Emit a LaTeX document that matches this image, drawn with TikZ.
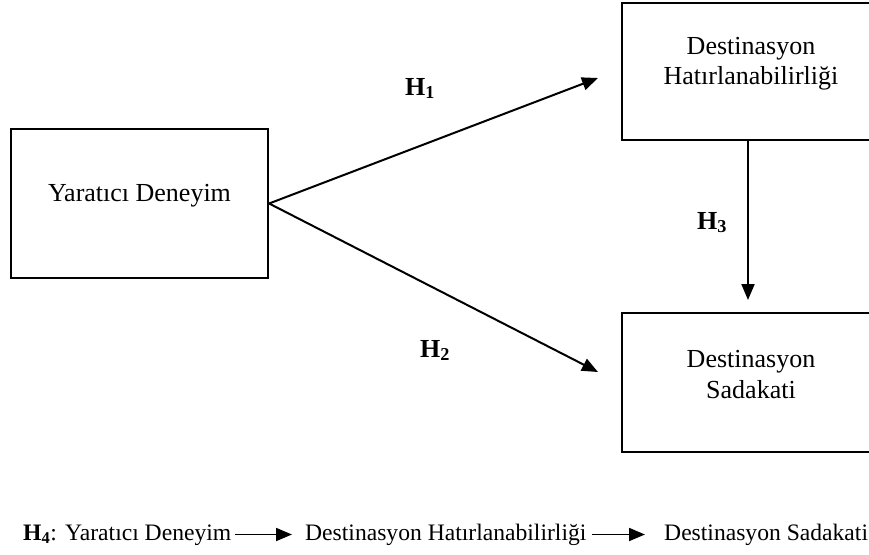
\documentclass[tikz,border=0pt]{standalone}
\usepackage{fontspec}
\setmainfont{Liberation Serif}
\usetikzlibrary{arrows.meta}
\definecolor{modelline}{HTML}{000000}
\tikzset{
  varbox/.style={draw=modelline, line width=2.2pt, inner sep=0pt},
  boxtext/.style={font=\fontsize{26}{30.5}\selectfont, align=center, yshift=8pt},
  hyp/.style={font=\fontsize{26}{30}\selectfont\bfseries, anchor=base west, inner sep=0pt},
  hyparrow/.style={-{Triangle[length=16pt, width=13pt]}, line width=2pt, modelline},
  chainnode/.style={font=\fontsize{23.6}{28}\selectfont, anchor=base west, inner sep=0pt,
                    text height=16pt, text depth=5pt},
}

\begin{document}
\begin{tikzpicture}[x=1pt, y=-1pt]
    \useasboundingbox (0,0) rectangle (869,554);
    \node[varbox, minimum width=257pt, minimum height=149pt,
          label={[boxtext]center:Yaratıcı Deneyim}] (yd) at (139.5,203.5) {};
    \node[varbox, minimum width=258pt, minimum height=137pt,
          label={[boxtext]center:{Destinasyon\\Hatırlanabilirliği}}] (hat) at (751,71.5) {};
    \node[varbox, minimum width=258pt, minimum height=139pt,
          label={[boxtext]center:{Destinasyon\\Sadakati}}] (sad) at (751,382.5) {};
    \coordinate (t1) at (598,78);
    \coordinate (t2) at (598,372);
    \coordinate (t3) at (748,300);
    \draw[hyparrow] (yd.east) -- (t1);
    \draw[hyparrow] (yd.east) -- (t2);
    \draw[hyparrow] (hat.south -| t3) -- (t3);
    \node[hyp] (h1) at (405,95) {H\textsubscript{1}};
    \node[hyp] (h2) at (420,357) {H\textsubscript{2}};
    \node[hyp] (h3) at (697,229) {H\textsubscript{3}};
    % H4 chain
    \node[chainnode] (h4) at (23,540) {\textbf{H\textsubscript{4}}:};
    \node[chainnode] (b1) at (65,540) {Yaratıcı Deneyim};
    \node[chainnode] (b2) at (305,540) {Destinasyon Hatırlanabilirliği};
    \node[chainnode] (b3) at (664,540) {Destinasyon Sadakati};
    \draw[hyparrow, line width=1.8pt, shorten <=4pt, shorten >=13pt] (b1.east) -- (b2.west);
    \draw[hyparrow, line width=1.8pt, shorten <=5pt, shorten >=19pt] (b2.east) -- (b3.west);
  \end{tikzpicture}
\end{document}
